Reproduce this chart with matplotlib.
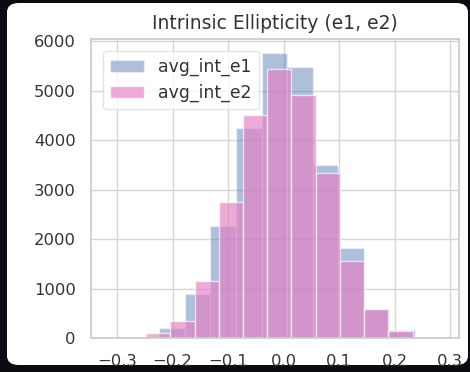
import numpy as np
import matplotlib
matplotlib.use("Agg")
import matplotlib.pyplot as plt
import seaborn as sns
from matplotlib.patches import FancyBboxPatch

# ---- data (bin edges and counts) ----
e1_start, e1_width = -0.3159, 0.04603
e1_counts = [5, 25, 200, 890, 2260, 4260, 5760, 5480, 3500, 1825, 585, 170, 20]

e2_start, e2_width = -0.2478, 0.04367
e2_counts = [100, 357, 1150, 2760, 4515, 5440, 4915, 3350, 1555, 595, 155, 32]

labels = ["avg_int_e1", "avg_int_e2"]
title = "Intrinsic Ellipticity (e1, e2)"
xticks = [-0.3, -0.2, -0.1, 0.0, 0.1, 0.2, 0.3]
yticks = [0, 1000, 2000, 3000, 4000, 5000, 6000]

sns.set_theme(style="whitegrid")
plt.rcParams['font.family'] = ['DejaVu Sans']

fig = plt.figure(figsize=(4.70, 3.72), dpi=100)
fig.patch.set_facecolor("#0a0c12")

card = FancyBboxPatch((7 / 470, 7 / 372), (468 - 7) / 470, (369 - 7) / 372,
                      boxstyle="round,pad=0,rounding_size=0.025",
                      transform=fig.transFigure, facecolor="white",
                      edgecolor="none", zorder=-10)
fig.patches.append(card)

ax = fig.add_axes([91 / 470, 1 - 338.3 / 372, (459 - 91) / 470, (338.3 - 39) / 372])
ax.set_zorder(1)
ax.set_facecolor("white")

e1_edges = e1_start + e1_width * np.arange(len(e1_counts) + 1)
e2_edges = e2_start + e2_width * np.arange(len(e2_counts) + 1)
e1_centers = (e1_edges[:-1] + e1_edges[1:]) / 2
e2_centers = (e2_edges[:-1] + e2_edges[1:]) / 2

ax.hist(e1_centers, bins=e1_edges, weights=e1_counts, color="#4C72B0",
        alpha=0.45, edgecolor="white", linewidth=1.0, label=labels[0])
ax.hist(e2_centers, bins=e2_edges, weights=e2_counts, color="#e480c4",
        alpha=0.66, edgecolor="white", linewidth=1.0, label=labels[1])

ax.set_xlim(-0.347, 0.316)
ax.set_ylim(0, 6050)
ax.set_xticks(xticks)
ax.set_yticks(yticks)
ax.tick_params(labelsize=11.8, colors="#333333", pad=5)
ax.set_title(title, fontsize=13.5, color="#333333", pad=7)
for s in ax.spines.values():
    s.set_color("#cccccc")
ax.grid(True, color="#d5d5d5", linewidth=1.0)

leg = ax.legend(loc="upper left", fontsize=12.4, frameon=True,
                borderaxespad=0.7, labelspacing=0.45)
leg.get_frame().set_edgecolor("#dddddd")
for t in leg.get_texts():
    t.set_color("#333333")

fig.savefig("out.png", dpi=100, facecolor=fig.get_facecolor())
